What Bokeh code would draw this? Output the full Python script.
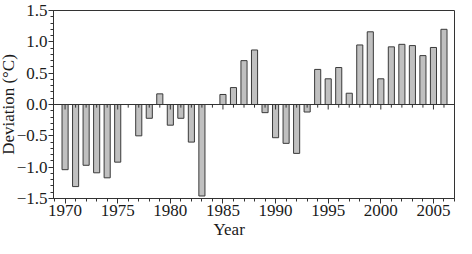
from bokeh.plotting import figure
from bokeh.models import FixedTicker, Range1d, CustomJSTickFormatter, Title
from bokeh.embed import file_html
from bokeh.resources import INLINE

years = list(range(1970, 2007))
deviation = [-1.04, -1.31, -0.97, -1.09, -1.17, -0.92, 0.0, -0.50, -0.22, 0.17,
             -0.33, -0.22, -0.60, -1.46, 0.0, 0.16, 0.27, 0.70, 0.87, -0.13,
             -0.53, -0.62, -0.78, -0.12, 0.56, 0.41, 0.59, 0.18, 0.95, 1.16,
             0.41, 0.92, 0.96, 0.94, 0.78, 0.91, 1.20]
x_major = [1970, 1975, 1980, 1985, 1990, 1995, 2000, 2005]
x_minor = list(range(1969, 2008))
y_major = [-1.5, -1.0, -0.5, 0.0, 0.5, 1.0, 1.5]
y_minor = [round(-1.5 + 0.1 * i, 1) for i in range(31)]
x_title = "Year"
y_title = "Deviation (°C)"

FONT = "Liberation Serif"
AX = "#333333"
TXT = "#1a1a1a"

p = figure(width=456, height=238, x_range=Range1d(1968.9, 2007.0),
           y_range=Range1d(-1.5, 1.5), output_backend="svg",
           toolbar_location=None, min_border_left=20, min_border_right=2,
           min_border_top=10, min_border_bottom=20,
           background_fill_color="white", border_fill_color="white")
p.xgrid.visible = False
p.ygrid.visible = False
p.outline_line_color = AX
p.outline_line_width = 1

p.vbar(x=years, top=deviation, bottom=0, width=0.58,
       fill_color="#c0c0c0", line_color="#3a3a3a", line_width=1)

p.line(x=[p.x_range.start, p.x_range.end], y=[0, 0], line_color=AX, line_width=1)
tick_len = [0.08 if y % 5 == 0 else 0.05 for y in years]
p.segment(x0=years, y0=[0] * len(years), x1=years, y1=[-t for t in tick_len],
          line_color=AX, line_width=1)

xa = p.xaxis[0]
xa.ticker = FixedTicker(ticks=x_major, minor_ticks=x_minor)
xa.major_tick_in = 0
xa.major_tick_out = 5
xa.minor_tick_in = 0
xa.minor_tick_out = 3
xa.axis_line_color = AX
xa.major_tick_line_color = AX
xa.minor_tick_line_color = AX
xa.major_label_text_font = FONT
xa.major_label_text_font_size = "17px"
xa.major_label_text_color = TXT
xa.major_label_standoff = 1

ya = p.yaxis[0]
ya.ticker = FixedTicker(ticks=y_major, minor_ticks=y_minor)
ya.formatter = CustomJSTickFormatter(
    code='return (tick < 0 ? "\\u2212" : "") + Math.abs(tick).toFixed(1);')
ya.major_tick_in = 0
ya.major_tick_out = 5
ya.minor_tick_in = 0
ya.minor_tick_out = 3
ya.axis_line_color = AX
ya.major_tick_line_color = AX
ya.minor_tick_line_color = AX
ya.major_label_text_font = FONT
ya.major_label_text_font_size = "17px"
ya.major_label_text_color = TXT
ya.major_label_standoff = 1

p.add_layout(Title(text=x_title, text_font=FONT, text_font_size="17px",
                   text_font_style="normal", align="left", offset=160,
                   standoff=-1, text_color=TXT), "below")
p.add_layout(Title(text=y_title, text_font=FONT, text_font_size="17px",
                   text_font_style="normal", align="center",
                   standoff=-8, text_color=TXT), "left")

open("out.html", "w").write(file_html(p, INLINE))
